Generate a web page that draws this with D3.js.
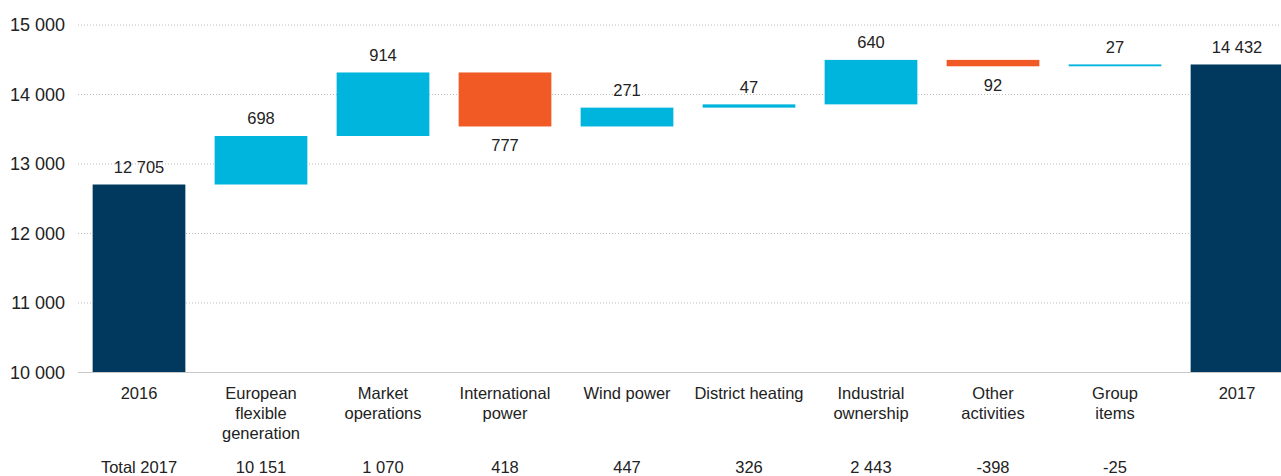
<!DOCTYPE html>
<html>
<head>
<meta charset="utf-8">
<script src="https://cdn.jsdelivr.net/npm/d3@7"></script>
<style>
  html, body { margin: 0; padding: 0; background: #fff; }
  svg { display: block; font-family: "Liberation Sans", Arial, sans-serif; }
</style>
</head>
<body>
<svg id="chart" width="1281" height="476"></svg>
<script>
// Categories of the bridge, wrapped lines separated by "\n"
const categories = [
  "2016", "European\nflexible\ngeneration", "Market\noperations", "International\npower",
  "Wind power", "District heating", "Industrial\nownership", "Other\nactivities",
  "Group\nitems", "2017"
];
// "total" = bar from the axis, "delta" = change floating on the running sum
const kinds = ["total", "delta", "delta", "delta", "delta", "delta", "delta", "delta", "delta", "total"];
const values = [12705, 698, 914, -777, 271, 47, 640, -92, 27, 14432];
// Row of 2017 totals printed under the category names
const totalRowLabels = ["Total 2017", "10 151", "1 070", "418", "447", "326", "2 443", "-398", "-25", ""];
const yTicks = [10000, 11000, 12000, 13000, 14000, 15000];

const colors = { total: "#00395d", up: "#00b5dd", down: "#f15a24" };

const locale = d3.formatLocale({ decimal: ",", thousands: " ", grouping: [3], currency: ["", ""], minus: "-" });
const fmt = locale.format(",d");

const svg = d3.select("#chart");

const x = d3.scaleBand()
  .domain(categories)
  .range([78, 1298])
  .paddingInner(0.24)
  .paddingOuter(0.12);

const y = d3.scaleLinear().domain([10000, 15000]).range([372.5, 25]);

// Running sum for the floating segments
let running = 0;
const bars = categories.map((c, i) => {
  let y0, y1;
  if (kinds[i] === "total") {
    y0 = 10000; y1 = values[i]; running = values[i];
  } else {
    y0 = running; y1 = running + values[i]; running = y1;
  }
  return { cat: c, kind: kinds[i], value: values[i], lo: Math.min(y0, y1), hi: Math.max(y0, y1) };
});

// Gridlines
svg.append("g")
  .selectAll("line")
  .data(yTicks.filter(t => t > 10000))
  .join("line")
  .attr("x1", 78).attr("x2", 1281)
  .attr("y1", d => y(d)).attr("y2", d => y(d))
  .attr("stroke", "#bdbdbd")
  .attr("stroke-width", 1)
  .attr("stroke-dasharray", "1,2");

// Y axis labels
const yAxis = svg.append("g")
  .attr("transform", "translate(78,0)")
  .call(d3.axisLeft(y).tickValues(yTicks).tickFormat(fmt).tickSize(0).tickPadding(13));
yAxis.select(".domain").remove();
yAxis.selectAll("text")
  .attr("font-size", 18)
  .attr("fill", "#222")
  .attr("font-family", "Liberation Sans, Arial, sans-serif");

// Bars
svg.append("g")
  .selectAll("rect")
  .data(bars)
  .join("rect")
  .attr("x", d => x(d.cat))
  .attr("width", x.bandwidth())
  .attr("y", d => y(d.hi))
  .attr("height", d => Math.max(1.5, y(d.lo) - y(d.hi)))
  .attr("fill", d => d.kind === "total" ? colors.total : (d.value >= 0 ? colors.up : colors.down));

// Baseline
svg.append("line")
  .attr("x1", 78).attr("x2", 1281)
  .attr("y1", y(10000)).attr("y2", y(10000))
  .attr("stroke", "#c8c8c8")
  .attr("stroke-width", 1.2);

// Value labels: above for totals and increases, below for decreases
svg.append("g")
  .selectAll("text")
  .data(bars)
  .join("text")
  .attr("x", d => x(d.cat) + x.bandwidth() / 2)
  .attr("y", d => (d.kind === "delta" && d.value < 0) ? y(d.lo) + 25 : y(d.hi) - 11.5)
  .attr("text-anchor", "middle")
  .attr("font-size", 16.5)
  .attr("fill", "#222")
  .text(d => fmt(Math.abs(d.value)));

// Category labels
const catG = svg.append("g");
categories.forEach(c => {
  const t = catG.append("text")
    .attr("x", x(c) + x.bandwidth() / 2)
    .attr("y", 399)
    .attr("text-anchor", "middle")
    .attr("font-size", 16.5)
    .attr("fill", "#222");
  c.split("\n").forEach((line, j) => {
    t.append("tspan")
      .attr("x", x(c) + x.bandwidth() / 2)
      .attr("dy", j === 0 ? 0 : 20)
      .text(line);
  });
});

// Totals row
svg.append("g")
  .selectAll("text")
  .data(categories.map((c, i) => ({ cat: c, label: totalRowLabels[i] })))
  .join("text")
  .attr("x", d => x(d.cat) + x.bandwidth() / 2)
  .attr("y", 473)
  .attr("text-anchor", "middle")
  .attr("font-size", 16.5)
  .attr("fill", "#222")
  .text(d => d.label);
</script>
</body>
</html>
